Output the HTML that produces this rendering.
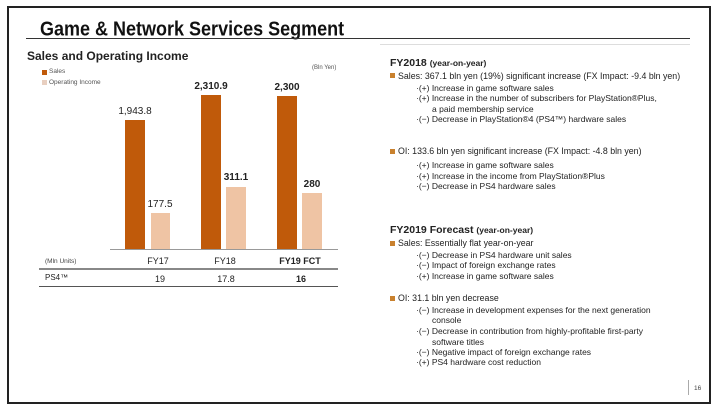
<!DOCTYPE html>
<html><head><meta charset="utf-8"><style>
body{margin:0;width:720px;height:410px;background:#fff;position:relative;overflow:hidden;font-family:"Liberation Sans",sans-serif;color:#222}
div{position:absolute;white-space:nowrap}
.t{font-size:8.8px;line-height:12px;height:12px}
.b{font-weight:bold}
.sq{width:5px;height:5px;background:#C9812E}
.s{background:#C05A0A}.o{background:#EFC4A4}
.v{font-size:10px;text-align:center;width:60px;line-height:12px}
</style></head><body>
<div style="left:7px;top:6px;width:700px;height:394px;border:2px solid #222"></div>
<div style="left:40px;top:16px;font-size:18px;font-weight:bold;line-height:26px;color:#111;transform:scaleY(1.12);transform-origin:0 50%">Game &amp; Network Services Segment</div>
<div style="left:26px;top:38px;width:664px;height:1px;background:#333"></div>
<div style="left:27px;top:49px;font-size:12px;font-weight:bold;line-height:14px">Sales and Operating Income</div>
<div style="left:42px;top:70px;width:5px;height:5px;background:#C05A0A"></div>
<div style="left:49px;top:67px;font-size:6.5px;line-height:9px;color:#555">Sales</div>
<div style="left:42px;top:80px;width:5px;height:5px;background:#E8CFC0"></div>
<div style="left:49px;top:78px;font-size:6.5px;line-height:9px;color:#555">Operating Income</div>
<div style="left:312px;top:64px;font-size:6px;line-height:8px;color:#555">(Bln Yen)</div>

<div class="s" style="left:125px;top:120px;width:20px;height:129px"></div>
<div class="o" style="left:151px;top:213px;width:19px;height:36px"></div>
<div class="s" style="left:201px;top:95px;width:20px;height:154px"></div>
<div class="o" style="left:226px;top:187px;width:20px;height:62px"></div>
<div class="s" style="left:277px;top:96px;width:20px;height:153px"></div>
<div class="o" style="left:302px;top:193px;width:20px;height:56px"></div>
<div style="left:110px;top:249px;width:228px;height:1px;background:#999"></div>

<div class="v" style="left:105px;top:106px">1,943.8</div>
<div class="v" style="left:130px;top:199px">177.5</div>
<div class="v b" style="left:181px;top:81px">2,310.9</div>
<div class="v b" style="left:206px;top:172px">311.1</div>
<div class="v b" style="left:257px;top:82px">2,300</div>
<div class="v b" style="left:282px;top:179px">280</div>

<div style="left:45px;top:257px;font-size:6.5px;line-height:9px;color:#444">(Mln Units)</div>
<div class="v" style="left:128px;top:255px;font-size:9px">FY17</div>
<div class="v" style="left:195px;top:255px;font-size:9px">FY18</div>
<div class="v b" style="left:270px;top:255px;font-size:9px">FY19 FCT</div>
<div style="left:39px;top:268px;width:299px;height:2px;background:#888"></div>
<div style="left:45px;top:272px;font-size:8px;line-height:11px">PS4™</div>
<div class="v" style="left:130px;top:273px;font-size:9px">19</div>
<div class="v" style="left:196px;top:273px;font-size:9px">17.8</div>
<div class="v b" style="left:271px;top:273px;font-size:9px">16</div>
<div style="left:39px;top:286px;width:299px;height:1px;background:#555"></div>

<div style="left:380px;top:44px;width:310px;height:1px;background:#ddd"></div>
<div class="b" style="left:390px;top:56px;font-size:10.5px;line-height:14px">FY2018 <span style="font-size:8.5px">(year-on-year)</span></div>
<div class="sq" style="left:390px;top:73px"></div>
<div class="t" style="left:398px;top:70px">Sales: 367.1 bln yen (19%) significant increase (FX Impact: -9.4 bln yen)</div>
<div class="t" style="left:416px;top:82px;font-size:8.5px">·(+) Increase in game software sales</div>
<div class="t" style="left:416px;top:92px;font-size:8.5px">·(+) Increase in the number of subscribers for PlayStation®Plus,</div>
<div class="t" style="left:432px;top:103px;font-size:8.5px">a paid membership service</div>
<div class="t" style="left:416px;top:113px;font-size:8.5px">·(−) Decrease in PlayStation®4 (PS4™) hardware sales</div>
<div class="sq" style="left:390px;top:149px"></div>
<div class="t" style="left:398px;top:145px">OI: 133.6 bln yen significant increase (FX Impact: -4.8 bln yen)</div>
<div class="t" style="left:416px;top:159px;font-size:8.5px">·(+) Increase in game software sales</div>
<div class="t" style="left:416px;top:170px;font-size:8.5px">·(+) Increase in the income from PlayStation®Plus</div>
<div class="t" style="left:416px;top:180px;font-size:8.5px">·(−) Decrease in PS4 hardware sales</div>

<div class="b" style="left:390px;top:223px;font-size:10.5px;line-height:14px">FY2019 Forecast <span style="font-size:8.5px">(year-on-year)</span></div>
<div class="sq" style="left:390px;top:241px"></div>
<div class="t" style="left:398px;top:237px">Sales: Essentially flat year-on-year</div>
<div class="t" style="left:416px;top:249px;font-size:8.5px">·(−) Decrease in PS4 hardware unit sales</div>
<div class="t" style="left:416px;top:259px;font-size:8.5px">·(−) Impact of foreign exchange rates</div>
<div class="t" style="left:416px;top:270px;font-size:8.5px">·(+) Increase in game software sales</div>
<div class="sq" style="left:390px;top:296px"></div>
<div class="t" style="left:398px;top:292px">OI: 31.1 bln yen decrease</div>
<div class="t" style="left:416px;top:304px;font-size:8.5px">·(−) Increase in development expenses for the next generation</div>
<div class="t" style="left:432px;top:314px;font-size:8.5px">console</div>
<div class="t" style="left:416px;top:325px;font-size:8.5px">·(−) Decrease in contribution from highly-profitable first-party</div>
<div class="t" style="left:432px;top:336px;font-size:8.5px">software titles</div>
<div class="t" style="left:416px;top:346px;font-size:8.5px">·(−) Negative impact of foreign exchange rates</div>
<div class="t" style="left:416px;top:356px;font-size:8.5px">·(+) PS4 hardware cost reduction</div>

<div style="left:688px;top:380px;width:1px;height:15px;background:#aaa"></div>
<div style="left:694px;top:384px;font-size:6.5px;line-height:9px;color:#444">16</div>
</body></html>
